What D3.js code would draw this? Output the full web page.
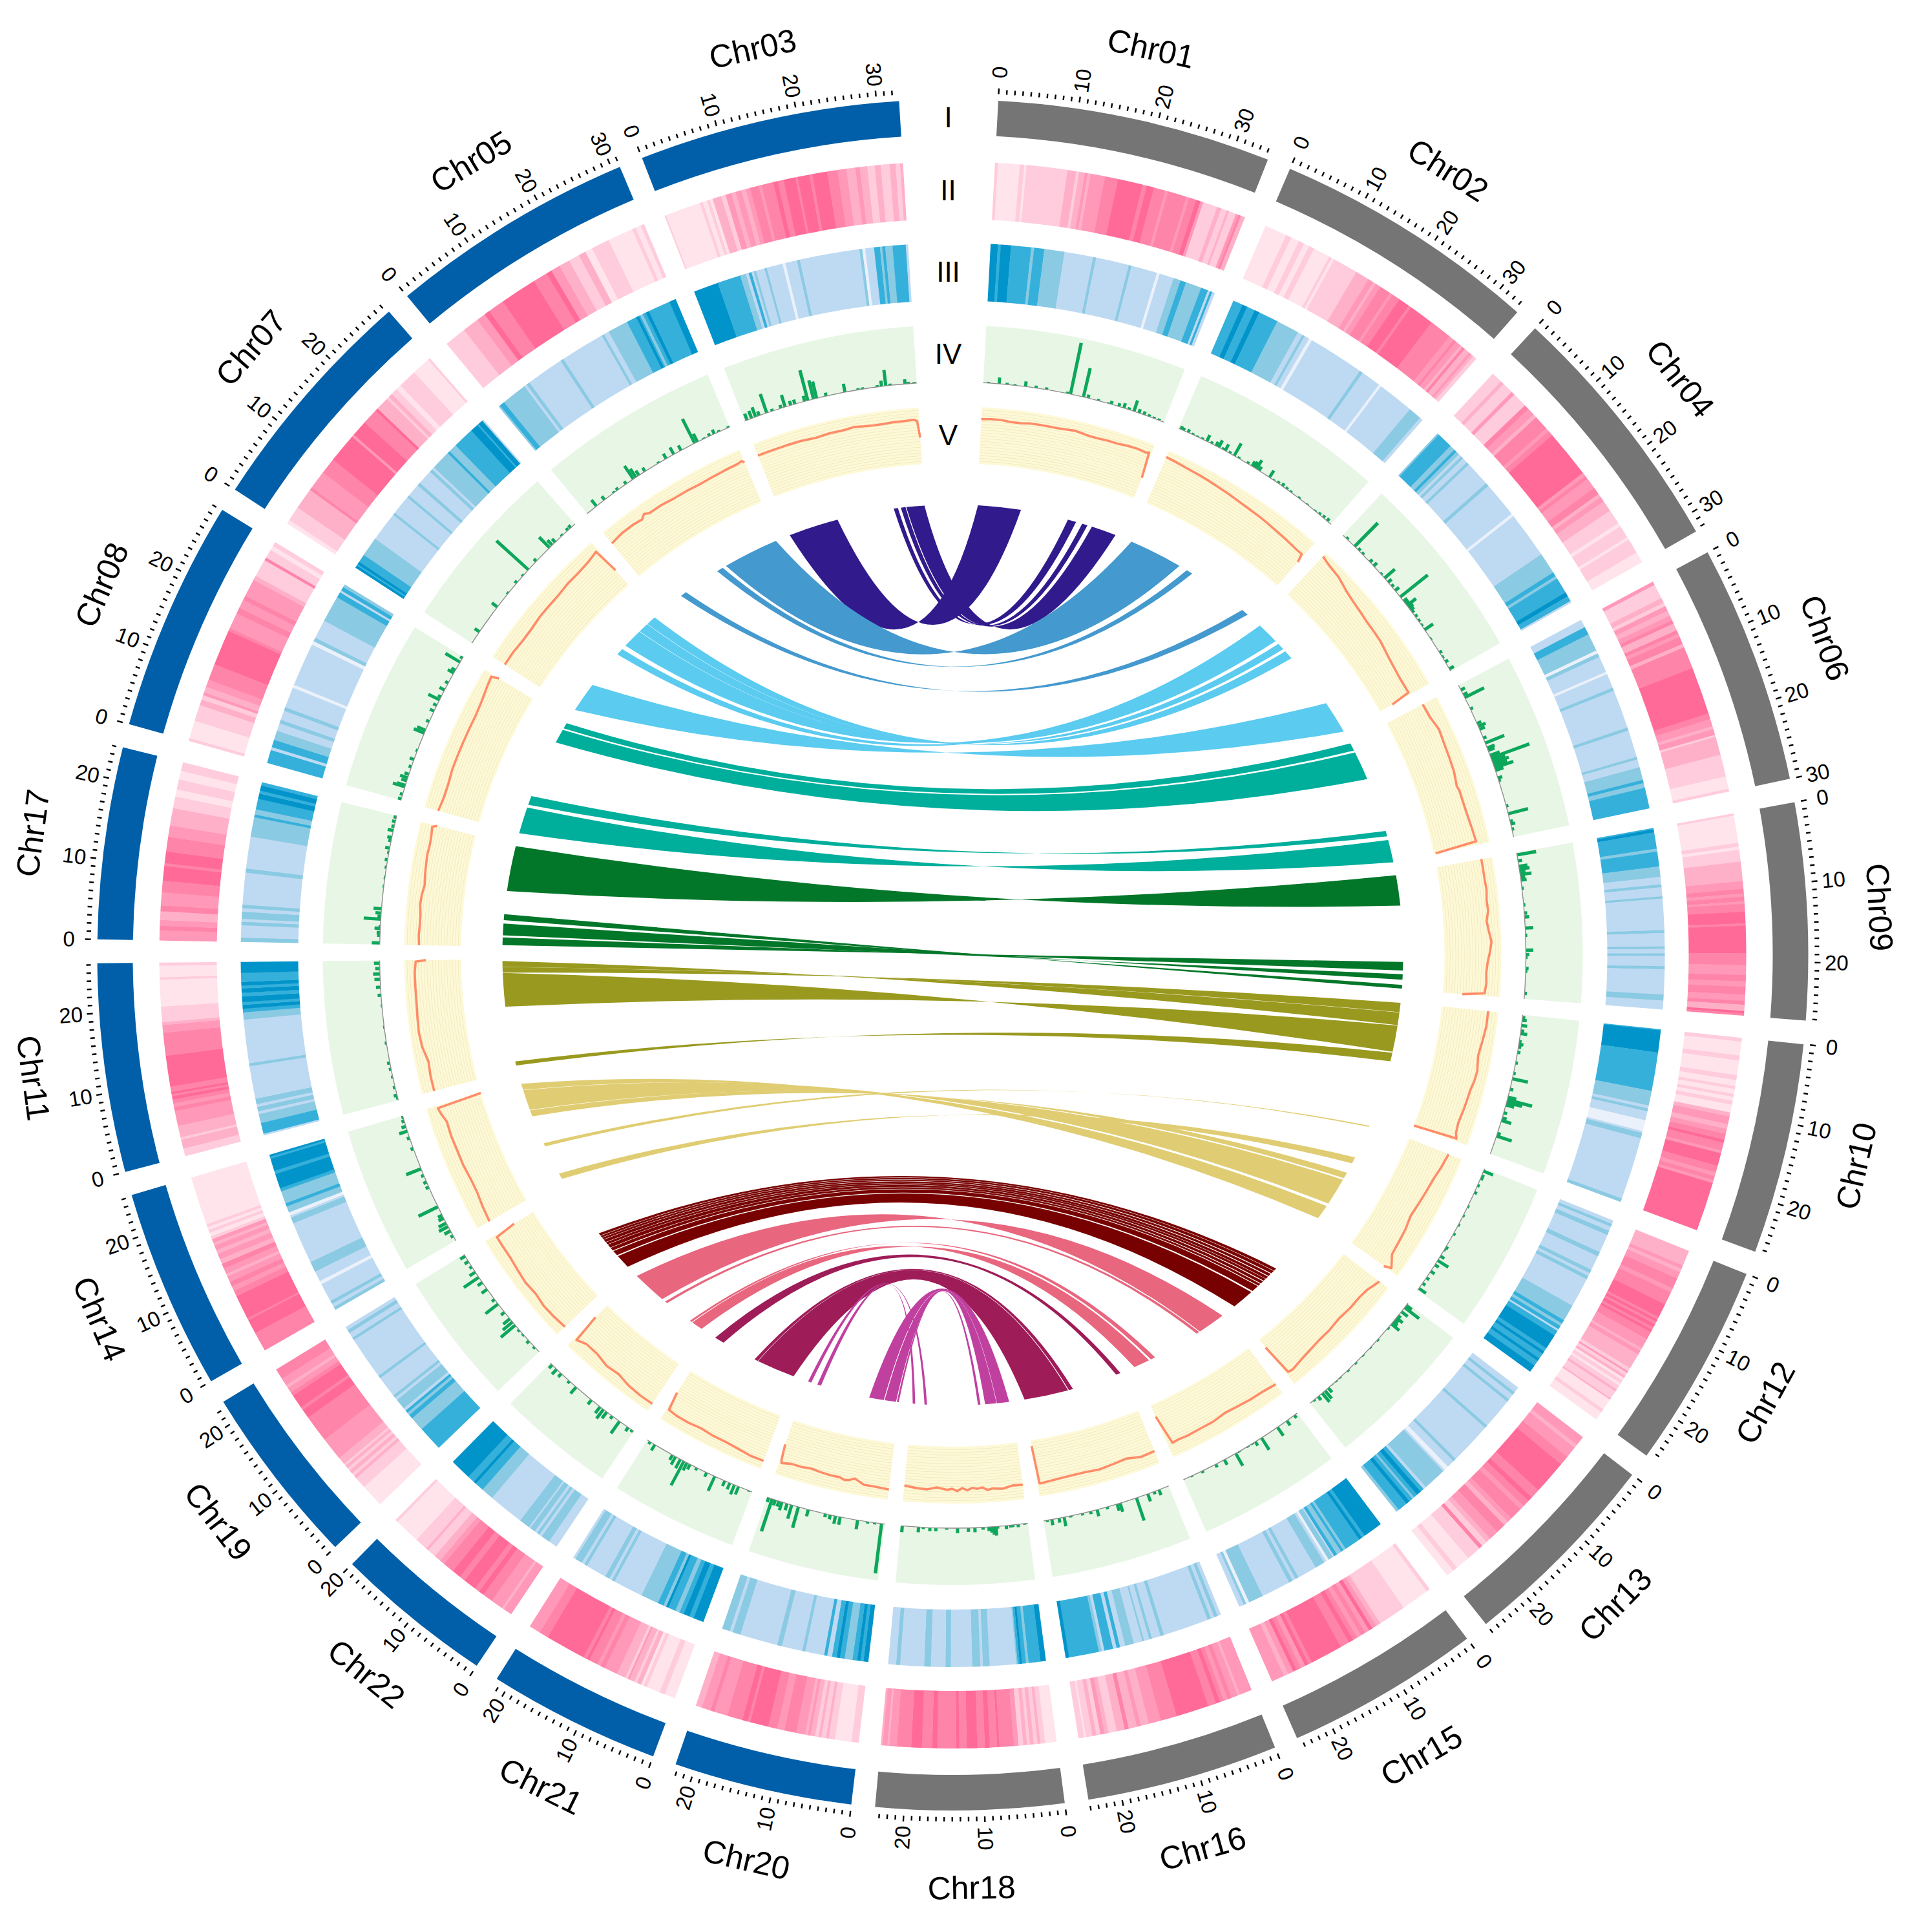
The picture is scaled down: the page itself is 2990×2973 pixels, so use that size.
<!DOCTYPE html>
<html><head><meta charset="utf-8">
<script src="https://cdn.jsdelivr.net/npm/d3@7/dist/d3.min.js"></script>
<style>html,body{margin:0;padding:0;background:#fff}svg{display:block}text{font-family:"Liberation Sans",Arial,sans-serif;fill:#000}</style>
</head><body><svg id="c" width="2990" height="2973"></svg>
<script>
const chromosomes=["Chr01","Chr02","Chr04","Chr06","Chr09","Chr10","Chr12","Chr13","Chr15","Chr16","Chr18","Chr20","Chr21","Chr22","Chr19","Chr14","Chr11","Chr17","Chr08","Chr07","Chr05","Chr03"];
const chromLengthMb=[34.4,33.5,32.3,30,27.2,26.5,25.8,26,24.5,24.1,23.6,22.4,21.7,20,22.8,25.2,26.2,24.1,29.1,29.3,31,32.8];
const profileSpanMb=[35,35,32,30.5,26.5,26.5,27,26.5,25.5,25,23.5,22.5,23.5,20.5,23.5,24.5,26.5,24,30,30,32.5,33];
const greyChromosomes=11;
const trackLabels=["I","II","III","IV","V"];
const pinkLevels=["#FFE4EC","#FFCCDD","#FFB0C9","#FF98B9","#FF84A9","#FF6A98"];
const blueLevels=["#EBF1FB","#BEDAF2","#8ACAE3","#35B0DB","#0194CA"];

// track II: [level, width] runs, clockwise
const pink_Chr01=[[1,10],[0,75],[1,15],[0,8],[1,140],[2,30],[1,10],[2,20],[3,10],[2,10],[3,50],[4,45],[5,85],[4,15],[5,25],[4,40],[3,10],[4,65],[3,10],[4,25],[5,15],[3,10],[1,50],[2,15],[1,20],[2,8],[1,25],[3,10],[4,8],[2,15]];
const pink_Chr02=[[0,4],[1,1],[0,1.5],[1,1],[0,1],[1,1],[0,3],[1,.5],[0,.5],[1,4.5],[2,2.5],[3,1],[2,.5],[3,1],[4,2],[3,.5],[4,1.5],[5,2],[4,.5],[5,4.5],[4,4],[3,1],[4,.5],[3,1],[2,.5],[4,.5],[2,1],[3,.5],[2,.5],[1,.7]];
const pink_Chr04=[[1,1.5],[2,.5],[1,1.5],[3,.5],[1,2],[4,.7],[3,1],[2,.5],[4,2],[3,.5],[4,.7],[5,6.5],[3,.5],[4,.5],[3,1.5],[4,1],[2,.5],[3,.7],[2,1.5],[1,2],[0,.5],[1,1.7],[0,.4],[1,2],[0,1.5]];
const pink_Chr06=[[3,.5],[1,2],[2,.7],[1,.5],[3,.7],[2,.7],[3,.7],[4,.5],[2,1],[4,.5],[3,.5],[4,1],[2,.5],[4,3],[5,6.5],[4,.8],[3,1],[2,.4],[3,.8],[1,.3],[2,2.5],[1,3],[0,1.7],[1,.4]];
const pink_Chr09=[[1,.3],[0,3.5],[1,.5],[0,.4],[1,1.5],[2,2.5],[3,1],[4,.6],[3,.4],[4,.6],[3,.3],[4,1],[5,1.5],[4,.3],[5,3.5],[4,1.5],[3,1.3],[4,.8],[3,.7],[4,1],[3,.8],[4,.5],[2,.8],[5,.3],[4,.3]];
const pink_Chr10=[[1,.4],[0,1.4],[1,.5],[0,1.5],[1,.5],[0,.6],[1,.3],[0,.5],[1,.3],[0,.4],[1,.4],[0,.8],[2,.4],[3,.8],[2,.5],[3,.5],[4,.6],[5,.3],[4,.8],[3,.3],[5,1.3],[4,.7],[3,.4],[4,.4],[3,.3],[5,5]];
const pink_Chr12=[[2,1.8],[3,.4],[2,.4],[3,.8],[4,1.2],[3,.5],[4,1.5],[5,1.6],[4,.3],[5,.3],[4,.3],[5,.4],[4,.3],[5,.3],[4,.9],[3,1.2],[2,.3],[3,.5],[2,1.8],[1,.4],[3,.2],[1,.4],[2,.3],[0,.3],[1,.4],[0,.3],[1,.5],[2,.3],[1,.9],[2,.2],[0,1.3],[1,.4],[0,1]];
const pink_Chr13=[[3,1],[2,.4],[3,1.2],[4,1],[5,3.5],[4,1],[5,.5],[4,.7],[3,.5],[4,1.3],[3,.5],[2,.5],[4,1],[3,1],[2,.5],[1,.6],[4,.4],[1,1.5],[0,1.5],[1,.5],[0,.8]];
const pink_Chr15=[[1,.4],[0,3],[1,3],[2,.5],[3,.5],[5,.4],[3,.5],[4,.5],[3,.5],[4,.5],[5,.5],[4,1],[5,3.5],[4,.4],[5,.4],[3,.5],[4,.5],[5,.4],[3,.6],[2,.5],[3,1.4]];
const pink_Chr16=[[3,1.5],[2,.3],[3,.8],[4,.5],[3,.5],[4,.5],[5,.5],[4,1],[5,4],[4,2],[3,1.5],[2,1],[3,.5],[2,1],[4,.5],[2,1],[1,1],[2,.5],[3,.5],[1,.5],[2,.5],[1,.8],[0,.2],[1,.7]];
const pink_Chr18=[[0,1.2],[1,.5],[2,.3],[1,.4],[2,.4],[1,.3],[2,.4],[1,.5],[3,.5],[4,1.5],[5,.2],[4,.8],[5,.5],[4,.8],[5,1.1],[4,.8],[5,.3],[4,2],[5,.5],[4,1.1],[5,1.1],[4,1.5],[3,.8],[2,.2],[3,.5],[2,.2]];
const pink_Chr20=[[1,.8],[0,1.8],[1,.7],[2,.3],[1,.5],[2,.3],[1,.4],[2,.5],[3,.3],[2,.3],[3,1],[4,1.3],[3,.8],[4,1],[5,2],[4,.3],[5,.6],[4,1.7],[3,1.5],[4,.4],[3,1],[2,.7]];
const pink_Chr21=[[0,1.2],[1,.6],[0,1.5],[1,.4],[0,.3],[2,.5],[1,.3],[2,.6],[3,.2],[1,.3],[2,1],[3,1.5],[4,.5],[3,.4],[4,1],[5,.3],[4,.4],[5,4.5],[4,1],[3,1.3]];
const pink_Chr22=[[3,1],[2,.3],[3,1.4],[4,1.2],[5,.6],[4,.6],[5,1.5],[4,.7],[5,1],[4,1.3],[3,.6],[2,.8],[1,1],[2,.3],[1,1.5],[0,3],[1,.3]];
const pink_Chr19=[[0,3],[1,1.5],[2,.4],[1,.4],[2,.5],[1,.4],[2,.4],[1,.3],[2,1],[3,3],[4,3.5],[5,1.2],[4,.4],[5,1.8],[4,.5],[3,.7],[2,.4],[3,1],[4,1.4]];
const pink_Chr14=[[4,2],[5,1.5],[4,.2],[5,2.5],[4,.6],[3,.5],[4,.5],[3,.6],[2,.3],[3,.6],[4,.5],[2,.5],[3,.6],[2,.4],[3,.5],[2,.3],[3,.4],[1,.3],[0,.4],[1,.3],[0,.3],[1,.3],[0,5]];
const pink_Chr11=[[1,1],[2,1.2],[1,.3],[2,1.5],[3,2],[4,.5],[3,.5],[4,.5],[5,.4],[4,.3],[5,.3],[4,.7],[5,4],[4,3],[3,1],[2,.4],[1,2],[0,3.5],[1,.3],[0,1.5],[1,.4]];
const pink_Chr17=[[3,35],[4,15],[3,20],[2,30],[4,20],[3,45],[4,40],[5,50],[4,10],[5,40],[4,50],[3,40],[2,60],[1,40],[0,25],[1,35],[0,30],[1,30]];
const pink_Chr08=[[1,10],[0,60],[1,55],[2,20],[1,15],[3,10],[2,20],[3,25],[4,55],[5,120],[4,10],[3,55],[4,20],[3,30],[4,15],[3,60],[2,15],[1,60],[4,10],[1,30],[0,15],[1,15]];
const pink_Chr07=[[0,15],[1,55],[2,80],[4,10],[3,70],[4,60],[5,110],[3,10],[5,60],[4,60],[5,10],[2,50],[1,10],[2,15],[1,25],[0,20],[1,70],[0,70],[1,8]];
const pink_Chr05=[[1,60],[2,45],[3,25],[5,15],[4,45],[5,100],[4,40],[5,15],[3,25],[2,30],[1,30],[2,20],[0,20],[1,50],[0,70],[1,10],[0,15],[1,10]];
const pink_Chr03=[[1,5],[0,120],[1,10],[0,15],[1,10],[0,10],[2,30],[1,15],[3,20],[2,15],[3,20],[2,15],[3,15],[4,30],[3,10],[4,40],[5,15],[4,20],[5,40],[4,8],[5,40],[4,10],[5,50],[4,35],[3,30],[2,30],[3,15],[2,25],[1,25],[2,20],[1,30],[2,20],[1,15],[2,10]];
const pinkTrack=[pink_Chr01,pink_Chr02,pink_Chr04,pink_Chr06,pink_Chr09,pink_Chr10,pink_Chr12,pink_Chr13,pink_Chr15,pink_Chr16,pink_Chr18,pink_Chr20,pink_Chr21,pink_Chr22,pink_Chr19,pink_Chr14,pink_Chr11,pink_Chr17,pink_Chr08,pink_Chr07,pink_Chr05,pink_Chr03];

// track III: [level, width] runs, clockwise
const blue_Chr01=[[4,25],[3,10],[4,35],[3,70],[2,10],[3,35],[2,70],[1,100],[2,10],[1,115],[2,10],[1,90],[0,10],[1,50],[2,25],[3,20],[2,55],[3,25],[1,8],[3,8],[1,10]];
const blue_Chr02=[[3,30],[4,15],[3,25],[4,15],[3,60],[2,70],[1,15],[2,8],[1,15],[0,10],[1,170],[2,10],[1,60],[0,8],[1,110],[2,40],[1,10]];
const blue_Chr04=[[2,5],[3,45],[2,15],[3,8],[2,10],[1,8],[2,8],[1,15],[2,8],[1,70],[2,10],[1,100],[0,8],[1,130],[2,60],[3,12],[2,8],[3,45],[4,12],[3,15],[1,5]];
const blue_Chr06=[[1,25],[3,25],[2,55],[0,10],[2,12],[1,50],[0,8],[1,45],[2,10],[1,120],[2,10],[1,85],[2,8],[1,25],[2,40],[3,10],[2,15],[3,65]];
const blue_Chr09=[[3,5],[4,10],[3,55],[2,10],[3,50],[2,35],[1,25],[2,10],[1,30],[2,8],[1,105],[2,10],[1,45],[2,8],[1,15],[2,8],[1,35],[2,10],[1,85],[2,20],[1,30]];
const blue_Chr10=[[3,3],[4,60],[3,105],[2,40],[1,8],[2,8],[1,25],[0,30],[1,5],[2,15],[1,170],[2,10]];
const blue_Chr12=[[1,10],[2,8],[1,12],[2,12],[1,50],[2,12],[1,40],[2,10],[1,8],[2,10],[1,80],[2,45],[3,10],[2,8],[3,10],[1,5],[3,15],[4,40],[3,10],[4,8],[3,15],[4,8],[3,15],[4,20]];
const blue_Chr13=[[1,15],[2,8],[1,15],[2,8],[1,80],[2,8],[1,110],[2,8],[1,20],[0,12],[1,5],[2,60],[1,8],[3,10],[4,12],[3,10],[2,6],[3,10],[4,10],[3,25],[2,8]];
const blue_Chr15=[[4,60],[3,10],[4,10],[3,50],[2,8],[3,8],[2,15],[3,10],[1,5],[2,15],[0,8],[1,8],[2,30],[1,60],[2,10],[1,10],[2,12],[1,90],[2,45],[0,10],[2,8],[1,15]];
const blue_Chr16=[[1,10],[2,10],[1,10],[2,10],[1,130],[2,10],[1,25],[2,8],[1,15],[2,5],[1,25],[2,25],[1,15],[3,10],[1,10],[3,25],[1,8],[2,8],[3,85],[4,10]];
const blue_Chr18=[[4,20],[3,45],[2,10],[3,15],[4,8],[3,8],[2,5],[1,100],[2,25],[1,10],[2,30],[1,80],[2,20],[1,55],[2,25],[1,90],[2,15],[1,30]];
const blue_Chr20=[[4,15],[3,10],[4,10],[3,15],[2,25],[3,15],[4,10],[3,15],[1,15],[3,10],[1,60],[2,10],[1,65],[2,15],[1,120],[2,25],[1,10],[2,25]];
const blue_Chr21=[[4,35],[3,15],[4,20],[3,15],[2,15],[3,25],[4,8],[2,10],[3,20],[2,60],[1,100],[2,10],[1,10],[2,15],[1,70],[2,10],[1,10],[2,25],[1,8]];
const blue_Chr22=[[1,25],[2,25],[1,8],[2,8],[1,8],[2,15],[1,5],[2,30],[1,100],[2,35],[3,25],[4,8],[3,20],[4,60]];
const blue_Chr19=[[3,70],[2,40],[3,12],[2,8],[3,8],[1,8],[2,30],[1,8],[2,8],[1,60],[2,8],[1,120],[2,8],[1,15],[2,10],[1,10]];
const blue_Chr14=[[2,8],[1,8],[2,8],[1,45],[0,8],[1,25],[2,25],[1,100],[2,15],[1,5],[0,8],[2,15],[3,8],[2,30],[3,8],[4,35],[3,8],[4,30],[3,5],[4,5]];
const blue_Chr11=[[1,5],[3,30],[2,25],[1,8],[2,12],[1,8],[2,15],[1,90],[2,8],[1,120],[2,20],[3,10],[4,10],[3,8],[4,15],[3,10],[4,12],[3,8],[4,10],[3,25],[4,30]];
const blue_Chr17=[[2,12],[1,35],[2,10],[1,8],[2,20],[1,10],[2,10],[1,90],[2,12],[1,90],[2,55],[3,8],[2,15],[3,30],[4,15],[3,8],[4,15],[3,10]];
const blue_Chr08=[[3,35],[1,8],[3,20],[2,25],[1,20],[2,10],[1,25],[2,10],[1,55],[0,8],[1,115],[0,10],[2,10],[1,50],[2,70],[3,15],[1,6],[3,10],[2,8]];
const blue_Chr07=[[4,8],[3,5],[4,8],[3,25],[2,60],[1,90],[2,8],[1,60],[2,8],[1,40],[2,10],[1,45],[2,10],[1,8],[2,60],[3,8],[2,25],[3,65],[4,25],[3,5],[4,15],[1,5]];
const blue_Chr05=[[2,5],[3,15],[2,75],[1,8],[2,10],[1,110],[2,10],[1,130],[2,8],[1,15],[2,60],[3,30],[4,8],[3,5],[2,8],[3,10],[4,10],[3,65],[4,20]];
const blue_Chr03=[[4,85],[3,80],[2,20],[1,10],[3,10],[1,8],[2,8],[1,30],[2,8],[1,55],[0,10],[1,40],[2,10],[1,205],[2,10],[0,10],[1,30],[3,20],[2,8],[3,10],[2,25],[3,45],[1,8]];
const blueTrack=[blue_Chr01,blue_Chr02,blue_Chr04,blue_Chr06,blue_Chr09,blue_Chr10,blue_Chr12,blue_Chr13,blue_Chr15,blue_Chr16,blue_Chr18,blue_Chr20,blue_Chr21,blue_Chr22,blue_Chr19,blue_Chr14,blue_Chr11,blue_Chr17,blue_Chr08,blue_Chr07,blue_Chr05,blue_Chr03];

// track IV: [Mb, height %]
const bars_Chr01=[[1,2],[3,11],[4.5,3],[6,2],[8,9],[10,4],[12,4],[16,3],[16.6,92],[19.1,52],[20,6],[22,3],[24,2],[24.5,6],[26,6],[27,9],[28,4],[29,20],[30,7],[31,6],[32,4],[33,3],[34,3]];
const bars_Chr02=[[.5,6],[1,5],[2,6],[3,3],[4,2],[5,3],[6,12],[7,4],[8,8],[8.6,14],[9.5,4],[10,13],[11,4],[12,25],[13,3],[15,4],[16,10],[16.5,12],[17,18],[17.6,8],[20,14],[21,2],[22,4],[23,6],[24,4],[25,3],[27,3],[29,2],[31,2],[32,4],[33,5],[34,6]];
const bars_Chr04=[[1,4],[3,58],[4,5],[5,4],[7,6],[8,8],[10,3],[11,24],[12,8],[13,5],[14,9],[15.5,62],[16.5,8],[17,8],[17.5,20],[18,10],[18.5,8],[19,5],[20,5],[21,4],[22,3],[23,18],[25,2],[28,5],[29,3],[30,6],[31.5,9]];
const bars_Chr06=[[1,8],[2,8],[2.6,38],[5,5],[8,8],[8.6,14],[9.2,10],[11,6],[12,36],[13,14],[13.5,12],[14.5,18],[15,72],[15.5,25],[16,30],[16.5,25],[17,35],[17.5,15],[19,8],[19.5,4],[24.5,4],[26,36],[27.5,5],[28,8],[29,4]];
const bars_Chr09=[[.4,34],[1.5,7],[2.5,15],[3,18],[3.5,10],[4,20],[4.5,8],[5,10],[6.5,3],[9.5,3],[11,5],[11.7,8],[13.7,14],[15,3],[17.7,13],[18.5,6],[19,3],[21,5],[21.5,3],[25.5,4]];
const bars_Chr10=[[.5,5],[1,8],[2,10],[3,6],[3.5,12],[5,4],[5.5,8],[6,5],[7,5],[9,4],[11,4],[12,28],[14,6],[15.5,15],[16,45],[16.5,28],[17,15],[18.5,6],[19.5,8],[20,18],[22.5,6],[23,28]];
const bars_Chr12=[[.5,18],[1.5,5],[2,5],[3.5,4],[5,5],[8,3],[10,3],[12,3],[14,4],[17,5],[17.5,3],[19,8],[20,22],[21,8],[22.5,8],[24,6],[25.3,6],[26.5,15]];
const bars_Chr13=[[.5,12],[1,32],[2,14],[3,6],[3.5,14],[4,8],[4.5,10],[5,18],[6,3],[9,3],[11,2],[13,2],[15,3],[17,3],[19,2],[20,2],[21,1],[22,10],[22.8,18],[23.5,20],[24.5,8],[25.5,3]];
const bars_Chr15=[[.7,6],[2.5,10],[4.7,18],[8.4,25],[9.8,8],[10.5,2],[11.5,2],[13.5,2],[14.2,25],[16.7,10],[18.6,6],[21.5,4],[23.7,2]];
const bars_Chr16=[[2,10],[3,5],[4.3,14],[6.6,42],[9.9,16],[10.5,12],[12.5,4],[14.5,12],[15.8,5],[17.4,4],[19.7,3],[21,16],[22,8],[23.4,10],[24.3,3]];
const bars_Chr18=[[.6,2],[1.8,5],[2.8,4],[3.2,4],[4,6],[5.6,4],[5.9,16],[6.3,14],[6.7,10],[7.2,7],[8.3,4],[9.8,8],[11,7],[13,9],[15,3],[17,6],[18.1,6],[19.3,3],[20.2,9],[23.2,11]];
const bars_Chr20=[[.6,88],[1.9,3],[3.2,3],[5.1,16],[8.4,14],[9.3,14],[10.3,8],[11.2,6],[14.5,12],[16.4,38],[17.7,25],[18.6,12],[19.6,15],[20.2,10],[20.9,10],[21.5,60],[22.2,8]];
const bars_Chr21=[[.7,2],[2.9,15],[3.8,18],[4.8,12],[5.9,10],[8.1,28],[9.9,8],[12.1,5],[13.6,10],[14.3,15],[15,48],[15.8,18],[16.9,16],[17.6,10],[21.7,12],[22.8,5]];
const bars_Chr22=[[.4,4],[1.3,8],[3.3,26],[5,6],[6.3,14],[7.1,20],[7.9,14],[10,10],[13.8,15],[15.5,5],[17.6,8],[18.8,12],[20,8]];
const bars_Chr19=[[1.2,4],[2.8,6],[4.4,3],[5.6,4],[6.8,33],[7.6,22],[8.4,15],[10,8],[12,28],[13.1,6],[15.5,12],[17.1,10],[18.3,32],[19.5,12],[20.7,5],[21.9,8],[23.1,10]];
const bars_Chr14=[[1,5],[2,12],[2.9,18],[3.6,15],[4.6,10],[5.2,8],[6.9,38],[10.8,6],[11.8,6],[13.1,5],[14.4,28],[18.3,5],[20.3,5],[21.6,15],[22.5,8],[23.5,5],[24.2,3]];
const bars_Chr11=[[.5,3],[1,6],[2.5,4],[4.5,3],[6,4],[7.2,5],[11,3],[14,2],[18,2],[20,6],[21.5,8],[23,10],[24,12],[25,8],[26,10]];
const bars_Chr17=[[.3,14],[1.7,5],[2.2,6],[3,10],[3.3,3],[4.7,30],[5.2,6],[5.8,10],[6.6,14],[10.8,2],[12.4,2],[14.3,3],[15.7,5],[17.1,3],[17.9,8],[19.3,5],[19.9,8],[21.2,10],[22,5],[22.9,6],[23.7,5]];
const bars_Chr08=[[.3,6],[1.2,5],[2.7,22],[3,15],[3.9,10],[4.5,14],[5.2,8],[6.7,5],[8.2,8],[10,3],[13.6,20],[14.2,16],[16,6],[18.2,8],[19.4,7],[20.6,22],[21.2,6],[22.7,10],[24.2,6],[26.4,12],[27,8],[28.8,30],[29.7,5]];
const bars_Chr07=[[2.6,10],[8.4,12],[11.7,3],[14.3,5],[16.1,3],[17.6,76],[19.8,6],[23.4,26],[24.1,12],[24.9,8],[26.7,3],[28.2,5],[28.9,6]];
const bars_Chr05=[[2.3,14],[4.3,8],[6.6,3],[7.5,5],[9.5,6],[11.2,28],[11.8,18],[12.5,10],[13.9,8],[17,3],[18.7,10],[20.4,14],[22,10],[25,48],[25.6,16],[27,2],[28.2,5],[29.2,8],[30.2,3],[32.2,3]];
const bars_Chr03=[[.5,12],[1.4,14],[2.2,18],[2.9,8],[4.4,35],[5.5,4],[7.2,6],[8,22],[9.1,8],[9.9,8],[11.8,10],[12.4,55],[13.5,34],[14.1,30],[15.9,6],[19.5,15],[22,3],[22.8,3],[25.6,3],[26.4,10],[27.2,28],[28,3],[30.8,8],[31.4,3],[32.5,2]];
const barTrack=[bars_Chr01,bars_Chr02,bars_Chr04,bars_Chr06,bars_Chr09,bars_Chr10,bars_Chr12,bars_Chr13,bars_Chr15,bars_Chr16,bars_Chr18,bars_Chr20,bars_Chr21,bars_Chr22,bars_Chr19,bars_Chr14,bars_Chr11,bars_Chr17,bars_Chr08,bars_Chr07,bars_Chr05,bars_Chr03];

// track V: [Mb, value 0-1]
const line_Chr01=[[0,.79],[2,.8],[4,.8],[6,.78],[8,.78],[10,.8],[12,.8],[14,.8],[16,.8],[17.5,.81],[19,.82],[20,.81],[22,.79],[24,.79],[26,.8],[28,.8],[30,.82],[32,.83],[34,.82],[34.5,.84],[35,.38]];
const line_Chr02=[[0,.88],[2,.87],[5,.85],[8,.84],[10,.83],[13,.81],[15,.8],[18,.78],[20,.77],[23,.76],[25,.75],[28,.73],[30,.72],[33,.7],[34.5,.7],[35,.55]];
const line_Chr04=[[0,.92],[2,.88],[5,.85],[8,.78],[10,.75],[13,.72],[15,.7],[18,.69],[20,.68],[23,.64],[25,.62],[28,.6],[30,.6],[31.5,.6],[32,.25]];
const line_Chr06=[[0,.72],[3,.73],[6,.78],[9,.76],[12,.75],[15,.74],[18,.7],[19,.72],[21,.72],[24,.73],[27,.75],[29.8,.77],[30.5,.03]];
const line_Chr09=[[0,.8],[2,.8],[4,.8],[6,.81],[8,.79],[10,.8],[12,.76],[14,.79],[16,.83],[18,.8],[20,.76],[22,.74],[24,.75],[26,.73],[26.5,.34]];
const line_Chr10=[[0,.82],[3,.82],[6,.79],[9,.76],[12,.8],[14,.79],[16,.76],[18,.75],[20,.74],[23,.72],[25,.74],[26,.78],[26.5,0]];
const line_Chr12=[[0,.75],[3,.72],[6,.68],[9,.66],[12,.64],[15,.62],[18,.66],[21,.68],[24,.7],[26.4,.83],[27,.7]];
const line_Chr13=[[0,.8],[3,.72],[5,.7],[8,.7],[11,.68],[14,.7],[17,.7],[20,.72],[23,.75],[25,.78],[26,.76],[26.5,.18]];
const line_Chr15=[[0,.8],[3,.77],[6,.76],[9,.74],[12,.72],[15,.75],[18,.75],[21,.76],[23,.75],[24.5,.76],[25.5,.22]];
const line_Chr16=[[0,.77],[3,.78],[6,.72],[9,.74],[12,.76],[15,.74],[18,.74],[21,.75],[24,.77],[24.6,.77],[25,.1]];
const line_Chr18=[[0,.75],[2,.74],[4,.78],[6,.76],[7,.78],[8,.73],[9,.75],[10,.73],[11,.77],[12,.73],[13,.78],[14,.74],[15,.76],[17,.72],[19,.76],[21,.75],[23.5,.72]];
const line_Chr20=[[0,.82],[3,.8],[5,.8],[7,.72],[8,.76],[9,.78],[10,.75],[12,.75],[14,.74],[16,.72],[18,.74],[20,.74],[22,.78],[22.2,.72],[22.5,.45]];
const line_Chr21=[[0,.85],[3,.85],[6,.82],[9,.8],[12,.8],[15,.78],[18,.8],[21,.8],[23,.78],[23.5,.45]];
const line_Chr22=[[0,.85],[3,.85],[6,.83],[9,.78],[12,.8],[15,.75],[18,.75],[20,.82],[20.5,.3]];
const line_Chr19=[[0,.8],[3,.82],[6,.83],[9,.8],[12,.82],[15,.8],[18,.78],[21,.78],[23,.78],[23.5,.4]];
const line_Chr14=[[0,.75],[3,.73],[6,.7],[9,.7],[12,.72],[15,.72],[18,.73],[21,.72],[23,.78],[24,.8],[24.5,0]];
const line_Chr11=[[0,.78],[3,.78],[6,.76],[9,.82],[12,.84],[15,.83],[18,.82],[21,.82],[24,.82],[26,.8],[26.2,.8],[26.5,.62]];
const line_Chr17=[[0,.74],[2,.75],[4,.74],[6,.74],[8,.76],[10,.75],[12,.72],[14,.74],[16,.75],[18,.76],[20,.75],[22,.76],[23.6,.78],[24,.7]];
const line_Chr08=[[0,.75],[3,.72],[6,.72],[9,.74],[12,.74],[15,.74],[18,.74],[21,.74],[24,.76],[27,.8],[29.5,.83],[30,.7]];
const line_Chr07=[[0,.74],[3,.74],[6,.72],[9,.72],[12,.74],[15,.74],[18,.74],[21,.76],[24,.76],[27,.78],[29.5,.82],[30,.35]];
const line_Chr05=[[0,.75],[3,.78],[6,.78],[8,.76],[9,.82],[10,.78],[13,.78],[16,.76],[19,.76],[22,.75],[25,.76],[28,.77],[31,.78],[32,.8],[32.5,.76]];
const line_Chr03=[[0,.78],[3,.78],[6,.78],[9,.78],[12,.76],[15,.78],[18,.78],[20,.8],[22,.78],[24,.77],[26,.77],[28,.78],[30,.78],[32,.79],[32.6,.76],[33,.47]];
const lineTrack=[line_Chr01,line_Chr02,line_Chr04,line_Chr06,line_Chr09,line_Chr10,line_Chr12,line_Chr13,line_Chr15,line_Chr16,line_Chr18,line_Chr20,line_Chr21,line_Chr22,line_Chr19,line_Chr14,line_Chr11,line_Chr17,line_Chr08,line_Chr07,line_Chr05,line_Chr03];

// links: chrA, a0, a1, chrB, b0, b1 (Mb)
const linksPurple=[["Chr03",.15,12,"Chr01",.3,10.5],["Chr03",25.5,26.5,"Chr01",21.8,23.8],["Chr03",27.2,28.3,"Chr01",25.3,26.6],["Chr03",28.5,32.8,"Chr01",27.7,33.6]];
const linksSteel=[["Chr05",17.4,30.6,"Chr02",.3,13],["Chr05",15,16.5,"Chr02",15,16.5],["Chr05",4.65,6.1,"Chr02",31.1,32.8]];
const linksSkyUpper=[["Chr07",19.3,24,"Chr04",.2,5.4],["Chr07",24.1,26.5,"Chr04",6.3,8],["Chr07",26.6,28.9,"Chr04",8.7,10.9],["Chr07",16.5,18.2,"Chr04",.2,.5]];
const linksSkyLower=[["Chr07",0,7.2,"Chr04",24.3,32.2]];
const linksTeal=[["Chr08",23.2,26.6,"Chr06",9.4,2.5],["Chr08",27,28.4,"Chr06",2,.1],["Chr08",.05,6.4,"Chr06",24.6,30],["Chr08",7.1,9.3,"Chr06",22.4,23.7]];
const linksGreen=[["Chr17",13.2,24,"Chr09",.15,7.4],["Chr17",.4,2.2,"Chr09",20.7,22.7],["Chr17",2.7,5.5,"Chr09",23.6,24.9],["Chr17",6.3,7.7,"Chr09",26.1,27]];
const linksOlive=[["Chr11",15,23,"Chr10",5.6,11.9],["Chr11",23.06,24.4,"Chr10",.2,2.4],["Chr11",24.46,25.8,"Chr10",2.5,5.5],["Chr11",.9,1.9,"Chr10",12.1,14.2]];
const linksGold=[["Chr14",16.5,18,"Chr12",13,14.5],["Chr14",18.1,23,"Chr12",14.9,21.5],["Chr14",23.1,24.6,"Chr12",22.2,25.7],["Chr14",.15,1.6,"Chr12",8.9,10.5],["Chr14",8.8,9.6,"Chr12",.7,1]];
const linksMaroon=[["Chr19",0,3.4,"Chr13",25.7,20.5],["Chr19",3.7,5,"Chr13",20.1,18.4],["Chr19",5.2,6,"Chr13",18.2,17.6],["Chr19",6.1,7,"Chr13",17.4,16.7],["Chr19",7.1,7.7,"Chr13",16.5,15.9],["Chr19",7.8,8.5,"Chr13",15.8,15.1],["Chr19",8.6,9.1,"Chr13",14.9,14.2],["Chr19",9.2,9.7,"Chr13",14,13.2],["Chr19",9.8,10.4,"Chr13",13.1,12.4]];
const linksRose=[["Chr22",11.8,19.9,"Chr15",.3,6.8],["Chr22",10.3,10.9,"Chr15",7.7,7],["Chr22",.15,2.8,"Chr15",20.6,24.4],["Chr22",3,3.5,"Chr15",19,20.1]];
const linksWine=[["Chr21",18.7,21,"Chr16",1.6,.5],["Chr21",.35,9.5,"Chr16",24,13.5],["Chr21",9.6,10.4,"Chr16",13.3,12.3]];
const linksMagenta=[["Chr20",21.3,22.1,"Chr18",20.6,20],["Chr20",18.9,19.8,"Chr18",23.4,22.8],["Chr20",7.2,3.7,"Chr18",.6,3.5],["Chr20",3.5,.8,"Chr18",3.6,6.3],["Chr20",.6,.15,"Chr18",7.4,8]];
const linkFamilies=[[linksPurple,"#311B8C",.5],[linksSteel,"#4499CF",.5],[linksSkyUpper,"#5BCBF0",.33],[linksSkyLower,"#5BCBF0",.63],[linksTeal,"#00AE9C",.5],[linksGreen,"#037729",.5],[linksOlive,"#99991F",.5],[linksGold,"#E0CD73",.5],[linksMaroon,"#770000",.5],[linksRose,"#E8667E",.5],[linksWine,"#9E1C58",.5],[linksMagenta,"#C040A0",.5]];

const W=2990,H=2973,cx=1474.5,cy=1478;
const rad=Math.PI/180;
const R={I:[1269,1324],II:[1139,1228],III:[1013,1102],IV:[887,975],V:[761,849],link:697,tickIn:1334,tickOut:1341,tickLabel:1368,name:1436};
const startDeg=3.05,gapDeg=1.6,topGapDeg=6.65;
const total=d3.sum(chromLengthMb);
const k=(360-topGapDeg-gapDeg*(chromosomes.length-1))/total;
let acc=startDeg;
const sectors=chromosomes.map((name,i)=>{
  const a0=acc,a1=acc+chromLengthMb[i]*k;acc=a1+gapDeg;
  return {name,i,len:chromLengthMb[i],a0,a1,
    ang:d3.scaleLinear().domain([0,chromLengthMb[i]]).range([a0*rad,a1*rad]),
    prof:d3.scaleLinear().domain([0,profileSpanMb[i]]).range([a0*rad,a1*rad]),
    color:i<greyChromosomes?"#757575":"#005FA8"};
});
const byName=new Map(sectors.map(s=>[s.name,s]));
const svg=d3.select("#c");
svg.append("rect").attr("width",W).attr("height",H).attr("fill","#fff");
const g=svg.append("g").attr("transform",`translate(${cx},${cy})`);
const arc=d3.arc();

// links
const lg=g.append("g");
function pt(a,r){return [r*Math.sin(a),-r*Math.cos(a)];}
function ribbon(l,f){
  const r=R.link,A=byName.get(l[0]),B=byName.get(l[3]);
  const a0=A.ang(l[1]),a1=A.ang(l[2]),b0=B.ang(l[4]),b1=B.ang(l[5]);
  const p=d3.path(),q=Math.PI/2,c=f/2;
  const Pa0=pt(a0,r),Pa1=pt(a1,r),Pb1=pt(b1,r),Pb0=pt(b0,r);
  p.moveTo(Pa0[0],Pa0[1]);
  p.arc(0,0,r,a0-q,a1-q,a1<a0);
  p.quadraticCurveTo((Pa1[0]+Pb1[0])*c,(Pa1[1]+Pb1[1])*c,Pb1[0],Pb1[1]);
  p.arc(0,0,r,b1-q,b0-q,b0<b1);
  p.quadraticCurveTo((Pb0[0]+Pa0[0])*c,(Pb0[1]+Pa0[1])*c,Pa0[0],Pa0[1]);
  p.closePath();
  return p.toString();
}
linkFamilies.forEach(([rows,col,f])=>{
  lg.selectAll(null).data(rows).enter().append("path").attr("d",d=>ribbon(d,f)).attr("fill",col);
});

// sectors
sectors.forEach((s,si)=>{
  const sg=g.append("g").attr("data-chr",s.name);
  const band=(r,col,a0,a1)=>sg.append("path").attr("d",arc({innerRadius:r[0],outerRadius:r[1],startAngle:a0,endAngle:a1})).attr("fill",col);
  const A0=s.a0*rad,A1=s.a1*rad;
  band(R.I,s.color,A0,A1);
  // heat tracks
  [[pinkTrack[si],pinkLevels,R.II],[blueTrack[si],blueLevels,R.III]].forEach(([runs,cols,rr])=>{
    const sum=d3.sum(runs,d=>d[1]);
    const x=d3.scaleLinear().domain([0,sum]).range([A0,A1]);
    let c=0;
    runs.forEach(([lv,w])=>{
      band(rr,cols[lv],x(c),Math.min(A1,x(c+w)+0.0004));c+=w;
    });
  });
  // bars
  band(R.IV,"#E8F6E6",A0,A1);
  const h=d3.scaleLinear().domain([0,100]).range([R.IV[0],R.IV[1]]);
  barTrack[si].forEach(([mb,v])=>{
    const a=s.prof(mb);
    const half=s.prof(.3)-A0;
    sg.append("path").attr("d",arc({innerRadius:h(0),outerRadius:h(v),startAngle:Math.max(A0,a-half),endAngle:Math.min(A1,a+half)})).attr("fill","#0DA75B");
  });
  sg.append("path").attr("d",d3.arc()({innerRadius:R.IV[0]-.7,outerRadius:R.IV[0]+.7,startAngle:A0,endAngle:A1})).attr("fill","#8E8E8E");
  // line track
  band(R.V,"#FDF8D6",A0,A1);
  const rows=d3.range(1,20).map(d=>R.V[0]+d*(R.V[1]-R.V[0])/20);
  rows.forEach(r=>{
    sg.append("path").attr("d",d3.arc()({innerRadius:r-.35,outerRadius:r+.35,startAngle:A0,endAngle:A1})).attr("fill","#EFE7BC");
  });
  const y=d3.scaleLinear().domain([0,1]).range([R.V[0],R.V[1]]);
  sg.append("path").attr("d",d3.lineRadial().angle(d=>s.prof(d[0])).radius(d=>y(d[1]))(lineTrack[si]))
    .attr("fill","none").attr("stroke","#FF8C69").attr("stroke-width",3.6).attr("stroke-linejoin","round");
  // ticks
  const mbTicks=d3.range(0,Math.floor(s.len)+1);
  sg.selectAll(null).data(mbTicks).enter().append("line")
    .attr("x1",d=>pt(s.ang(d),R.tickIn)[0]).attr("y1",d=>pt(s.ang(d),R.tickIn)[1])
    .attr("x2",d=>pt(s.ang(d),d%10?R.tickOut:R.tickOut+2)[0]).attr("y2",d=>pt(s.ang(d),d%10?R.tickOut:R.tickOut+2)[1])
    .attr("stroke","#000").attr("stroke-width",2.4);
  sg.selectAll(null).data(mbTicks.filter(d=>d%10===0)).enter().append("text")
    .attr("transform",d=>{
      const deg=s.ang(d)/rad,p=pt(s.ang(d),R.tickLabel);
      const rot=deg<180?deg-90:deg+90;
      return `translate(${p[0]},${p[1]}) rotate(${rot})`;
    }).attr("text-anchor","middle").attr("dominant-baseline","central").attr("font-size",33).text(d=>d);
  // name
  const mid=(s.a0+s.a1)/2,pn=pt(mid*rad,s.name==="Chr18"?R.name+8:R.name);
  const rot=(mid>90&&mid<270)?mid-180:mid;
  sg.append("text").attr("transform",`translate(${pn[0]},${pn[1]}) rotate(${rot})`)
    .attr("text-anchor","middle").attr("dominant-baseline","central").attr("font-size",50).text(s.name);
});

// roman labels
const labelR=[R.I,R.II,R.III,R.IV,R.V].map(r=>(r[0]+r[1])/2);
g.selectAll(null).data(trackLabels).enter().append("text")
  .attr("x",-7).attr("y",(d,i)=>-labelR[i])
  .attr("text-anchor","middle").attr("dominant-baseline","central").attr("font-size",44).text(d=>d);
</script></body></html>
